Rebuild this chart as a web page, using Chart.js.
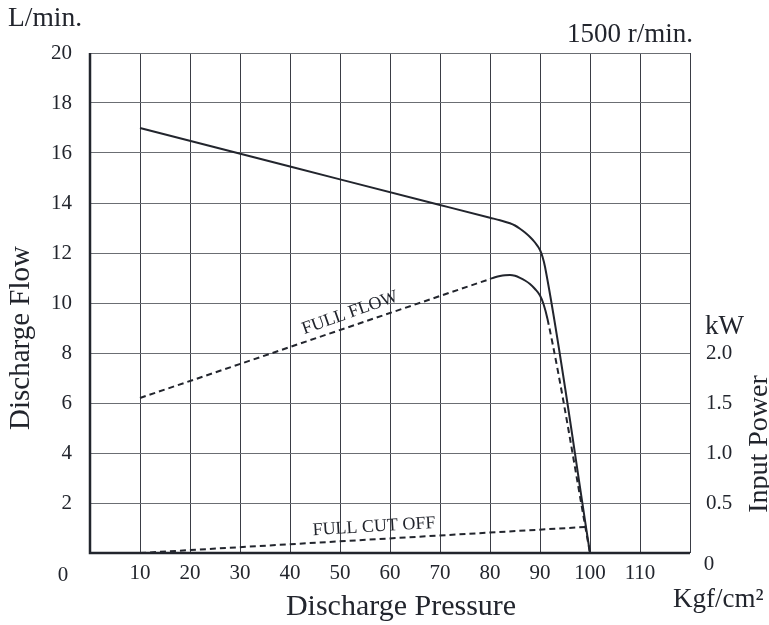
<!DOCTYPE html>
<html>
<head>
<meta charset="utf-8">
<script src="https://cdn.jsdelivr.net/npm/chart.js@4/dist/chart.umd.min.js"></script>
<style>
  body { margin: 0; background: #fff; }
  #wrap { width: 769px; height: 625px; }
</style>
</head>
<body>
<div id="wrap"><canvas id="pumpChart" width="769" height="625"></canvas></div>
<script>
// discharge flow (L/min) against pressure (Kgf/cm2)
const flowPressure = [10, 40, 70, 80, 82, 84, 85, 86, 87, 88, 89, 90, 90.5, 91, 100];
const flowValues = [17, 15.46, 13.92, 13.41, 13.31, 13.19, 13.1, 12.97, 12.82, 12.64, 12.42, 12.12, 11.85, 11.45, 0];

// input power at full flow (kW)
const powerPressure = [10, 80, 81, 82, 83, 84, 85, 86, 87, 88, 89, 90, 90.7, 91.5, 100];
const powerKw = [1.55, 2.74, 2.757, 2.77, 2.778, 2.78, 2.772, 2.752, 2.725, 2.69, 2.64, 2.575, 2.49, 2.34, 0];

// input power at full cut off (kW)
const cutoffPressure = [10, 99];
const cutoffKw = [0, 0.26];

const xTicks = [10, 20, 30, 40, 50, 60, 70, 80, 90, 100, 110];
const flowTicks = [2, 4, 6, 8, 10, 12, 14, 16, 18, 20];
const powerTicks = [0.5, 1.0, 1.5, 2.0];

const serif = "'Liberation Serif', 'DejaVu Serif', serif";
const ink = '#22252d';

function toPoints(xs, ys) {
    return xs.map((x, i) => ({ x: x, y: ys[i] }));
}

const textPlugin = {
    id: 'extraText',
    afterDraw(chart) {
        const ctx = chart.ctx;
        const x = chart.scales.x;
        const y = chart.scales.y;
        ctx.save();
        ctx.fillStyle = ink;
        ctx.textBaseline = 'middle';
        ctx.font = '27.5px ' + serif;
        ctx.textAlign = 'left';
        ctx.fillText('L/min.', 8, 19);
        ctx.font = '27px ' + serif;
        ctx.textAlign = 'right';
        ctx.fillText('1500 r/min.', 693, 35);
        ctx.textAlign = 'left';
        ctx.fillText('kW', 705, 327);
        ctx.fillText('Kgf/cm²', 673, 600);
        ctx.font = '30px ' + serif;
        ctx.textAlign = 'center';
        ctx.fillText('Discharge Pressure', 401, 607);

        ctx.font = '29px ' + serif;
        ctx.save();
        ctx.translate(21, 338);
        ctx.rotate(-Math.PI / 2);
        ctx.fillText('Discharge Flow', 0, 0);
        ctx.restore();
        ctx.font = '28px ' + serif;
        ctx.save();
        ctx.translate(760, 444);
        ctx.rotate(-Math.PI / 2);
        ctx.fillText('Input Power', 0, 0);
        ctx.restore();

        ctx.font = '21px ' + serif;
        ctx.fillText('0', 63, 575);
        ctx.fillText('0', 709, 564);

        // curve labels
        ctx.font = '18px ' + serif;
        ctx.save();
        ctx.translate(x.getPixelForValue(52), y.getPixelForValue(9.6));
        ctx.rotate(-0.34);
        ctx.fillText('FULL FLOW', 0, 0);
        ctx.restore();
        ctx.save();
        ctx.translate(x.getPixelForValue(56.8), y.getPixelForValue(1.05));
        ctx.rotate(-0.06);
        ctx.fillText('FULL CUT OFF', 0, 0);
        ctx.restore();
        ctx.restore();
    }
};

const borderPlugin = {
    id: 'thickBorder',
    afterDatasetsDraw(chart) {
        const a = chart.chartArea;
        const ctx = chart.ctx;
        ctx.save();
        ctx.strokeStyle = ink;
        ctx.lineWidth = 2.5;
        ctx.beginPath();
        ctx.moveTo(a.left, a.top);
        ctx.lineTo(a.left, a.bottom);
        ctx.lineTo(a.right, a.bottom);
        ctx.stroke();
        ctx.restore();
    }
};

new Chart(document.getElementById('pumpChart'), {
    type: 'scatter',
    data: {
        datasets: [
            {
                label: 'Discharge Flow',
                data: toPoints(flowPressure, flowValues),
                yAxisID: 'y',
                showLine: true,
                borderColor: ink,
                borderWidth: 2,
                pointRadius: 0,
                cubicInterpolationMode: 'monotone'
            },
            {
                label: 'FULL FLOW',
                data: toPoints(powerPressure, powerKw),
                yAxisID: 'y1',
                showLine: true,
                borderColor: ink,
                borderWidth: 2,
                pointRadius: 0,
                cubicInterpolationMode: 'monotone',
                segment: {
                    borderDash: c => (c.p0.parsed.x < 80 || c.p0.parsed.x >= 91.5) ? [6, 4] : undefined
                }
            },
            {
                label: 'FULL CUT OFF',
                data: toPoints(cutoffPressure, cutoffKw),
                yAxisID: 'y1',
                showLine: true,
                borderColor: ink,
                borderWidth: 2,
                borderDash: [6, 4],
                pointRadius: 0
            }
        ]
    },
    options: {
        responsive: false,
        animation: false,
        layout: { padding: { top: 53, left: 0, right: 0, bottom: 0 } },
        plugins: { legend: { display: false }, tooltip: { enabled: false } },
        scales: {
            x: {
                type: 'linear',
                min: 0,
                max: 120,
                afterBuildTicks: s => { s.ticks = [0, ...xTicks, 120].map(v => ({ value: v })); },
                ticks: {
                    color: ink,
                    font: { family: serif, size: 21 },
                    padding: 8,
                    maxRotation: 0,
                    autoSkip: false,
                    callback: v => (v === 0 || v === 120) ? '' : v
                },
                grid: { color: '#3a3d45', lineWidth: 1, drawTicks: false },
                border: { display: false },
                afterFit: s => { s.height = 72; }
            },
            y: {
                type: 'linear',
                position: 'left',
                min: 0,
                max: 20,
                afterBuildTicks: s => { s.ticks = [0, ...flowTicks].map(v => ({ value: v })); },
                ticks: {
                    color: ink,
                    font: { family: serif, size: 21 },
                    padding: 18,
                    autoSkip: false,
                    callback: v => v === 0 ? '' : v
                },
                grid: { color: '#6b6e73', lineWidth: 1, drawTicks: false },
                border: { display: false },
                afterFit: s => { s.width = 90; }
            },
            y1: {
                type: 'linear',
                position: 'right',
                min: 0,
                max: 5,
                afterBuildTicks: s => { s.ticks = powerTicks.map(v => ({ value: v })); },
                ticks: {
                    color: ink,
                    font: { family: serif, size: 21 },
                    padding: 16,
                    autoSkip: false,
                    callback: v => v.toFixed(1)
                },
                grid: { display: false, drawTicks: false },
                border: { display: false },
                afterFit: s => { s.width = 79; }
            }
        }
    },
    plugins: [textPlugin, borderPlugin]
});
</script>
</body>
</html>
